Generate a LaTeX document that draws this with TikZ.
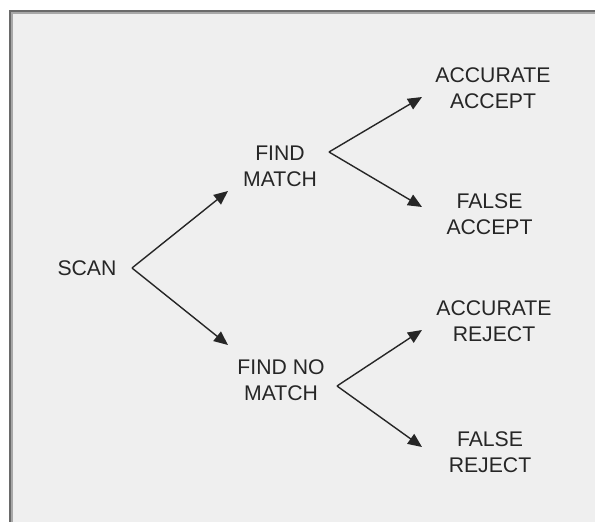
\documentclass[tikz,border=0pt]{standalone}
\usepackage{fontspec}
\setmainfont{Liberation Sans}
\usetikzlibrary{arrows.meta}
\definecolor{bg}{HTML}{EFEFEF}
\definecolor{borderdark}{HTML}{6A6A6A}
\definecolor{borderlight}{HTML}{A8A8A8}
\definecolor{ink}{HTML}{262626}
\definecolor{lineink}{HTML}{262626}
\tikzset{
  lbl/.style={text=ink, align=center, inner sep=0pt, font=\fontsize{21.2}{26}\selectfont},
  arr/.style={draw=lineink, line width=1.4pt, -{Triangle[length=14pt,width=12pt]}},
}
\begin{document}
\begin{tikzpicture}[x=1pt,y=-1pt]
\useasboundingbox (0,0) rectangle (595,522);
\fill[white] (0,0) rectangle (595,522);
% frame
\fill[borderdark] (9,10) rectangle (595,522);
\fill[borderlight] (11,12) rectangle (595,522);
\fill[bg] (13,14) rectangle (595,522);
% nodes
\node[lbl] (scan) at (87,268) {SCAN};
\node[lbl] (fm) at (280,166) {FIND\\MATCH};
\node[lbl] (fnm) at (281,380) {FIND NO\\MATCH};
\node[lbl] (aa) at (493,88) {ACCURATE\\ACCEPT};
\node[lbl] (fa) at (489.5,214.5) {FALSE\\ACCEPT};
\node[lbl] (ar) at (494,321.5) {ACCURATE\\REJECT};
\node[lbl] (fr) at (490,452.5) {FALSE\\REJECT};
% fork points and arrow ends
\coordinate (scanv) at (132,268);
\coordinate (fmin) at (228,191);
\coordinate (fnmin) at (228,345);
\coordinate (fmv) at (329,152);
\coordinate (aain) at (422,97);
\coordinate (fain) at (422,207);
\coordinate (fnmv) at (337,386);
\coordinate (arin) at (422,330);
\coordinate (frin) at (422,447);
% connectors
\draw[arr] (scanv) -- (fmin);
\draw[arr] (scanv) -- (fnmin);
\draw[arr] (fmv) -- (aain);
\draw[arr] (fmv) -- (fain);
\draw[arr] (fnmv) -- (arin);
\draw[arr] (fnmv) -- (frin);
\end{tikzpicture}
\end{document}
